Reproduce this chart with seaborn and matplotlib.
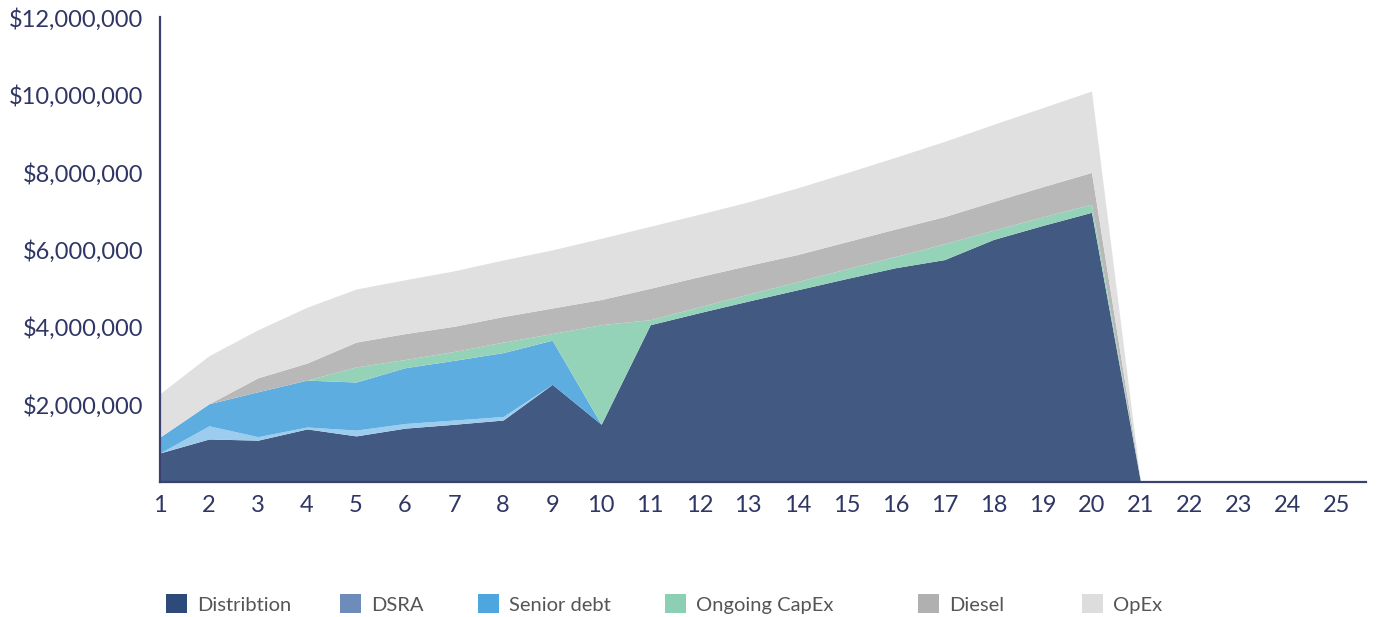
import numpy as np
import pandas as pd
import matplotlib
matplotlib.use("Agg")
import matplotlib.pyplot as plt
from matplotlib.patches import Patch
from matplotlib.ticker import FuncFormatter
import seaborn as sns

# Project years
years = list(range(1, 26))

# Annual cash-flow components ($ millions)
distribution = [0.75, 1.11, 1.08, 1.37, 1.19, 1.39, 1.49, 1.60, 2.52, 1.49,
                4.06, 4.37, 4.67, 4.96, 5.25, 5.53, 5.74, 6.26, 6.62, 6.96,
                0, 0, 0, 0, 0]
dsra = [0.0, 0.34, 0.09, 0.05, 0.15, 0.12, 0.11, 0.09, 0.0, 0.0,
        0, 0, 0, 0, 0, 0, 0, 0, 0, 0, 0, 0, 0, 0, 0]
senior_debt = [0.41, 0.57, 1.16, 1.21, 1.24, 1.44, 1.54, 1.65, 1.14, 0.0,
               0, 0, 0, 0, 0, 0, 0, 0, 0, 0, 0, 0, 0, 0, 0]
ongoing_capex = [0.0, 0.0, 0.0, 0.0, 0.39, 0.21, 0.23, 0.27, 0.17, 2.57,
                 0.13, 0.15, 0.18, 0.21, 0.25, 0.29, 0.41, 0.24, 0.22, 0.21,
                 0, 0, 0, 0, 0]
diesel = [0.0, 0.0, 0.36, 0.44, 0.64, 0.67, 0.65, 0.66, 0.66, 0.65,
          0.81, 0.78, 0.74, 0.70, 0.70, 0.71, 0.70, 0.74, 0.78, 0.82,
          0, 0, 0, 0, 0]
opex = [1.12, 1.24, 1.24, 1.44, 1.37, 1.39, 1.43, 1.46, 1.50, 1.58,
        1.60, 1.61, 1.64, 1.72, 1.78, 1.85, 1.94, 1.99, 2.04, 2.10,
        0, 0, 0, 0, 0]

labels = ["Distribtion", "DSRA", "Senior debt", "Ongoing CapEx", "Diesel", "OpEx"]
fill_colors = ["#425A82", "#9DCDEE", "#5DADE0", "#95D3B9", "#B8B8B8", "#E0E0E0"]
legend_colors = ["#2E4A7A", "#6E8CB9", "#4DA6DE", "#8CCFB4", "#B0B0B0", "#DDDDDD"]
# left edge of each legend entry, as a fraction of the figure width
legend_x = [0.1198, 0.2453, 0.3449, 0.4798, 0.6623, 0.7807]

df = pd.DataFrame({
    "Year": years,
    labels[0]: distribution,
    labels[1]: dsra,
    labels[2]: senior_debt,
    labels[3]: ongoing_capex,
    labels[4]: diesel,
    labels[5]: opex,
})

sns.set_theme(style="white")
plt.rcParams["font.family"] = ["Lato", "DejaVu Sans"]

navy = "#2F3664"

fig = plt.figure(figsize=(13.86, 6.17), dpi=100)
ax = fig.add_axes([0.1154, 0.2188, 0.8702, 0.7536])

values = [df[l].to_numpy() * 1e6 for l in labels]
ax.stackplot(df["Year"], *values, colors=fill_colors, linewidth=0)

ax.set_xlim(1, 25.6)
ax.set_ylim(0, 12e6)
ax.set_xticks(years)
ax.set_xticklabels([str(y) for y in years])
ax.set_yticks(np.arange(2e6, 12.1e6, 2e6))
ax.yaxis.set_major_formatter(FuncFormatter(lambda v, p: f"${v:,.0f}"))

ax.tick_params(axis="both", length=0, colors=navy, labelsize=17)
ax.tick_params(axis="y", pad=12)
ax.tick_params(axis="x", pad=9)

sns.despine(ax=ax, top=True, right=True)
for side in ("left", "bottom"):
    ax.spines[side].set_color("#3A4170")
    ax.spines[side].set_linewidth(1.6)
ax.grid(False)

# one legend entry per series, spaced like the original layout
for lbl, col, x0 in zip(labels, legend_colors, legend_x):
    fig.legend([Patch(facecolor=col, edgecolor="none")], [lbl],
               loc="center left", bbox_to_anchor=(x0, 0.021),
               frameon=False, fontsize=14.5, labelcolor="#555555",
               handlelength=1.05, handleheight=1.05, handletextpad=0.5,
               borderpad=0, borderaxespad=0)

fig.savefig("out.png", dpi=100)
